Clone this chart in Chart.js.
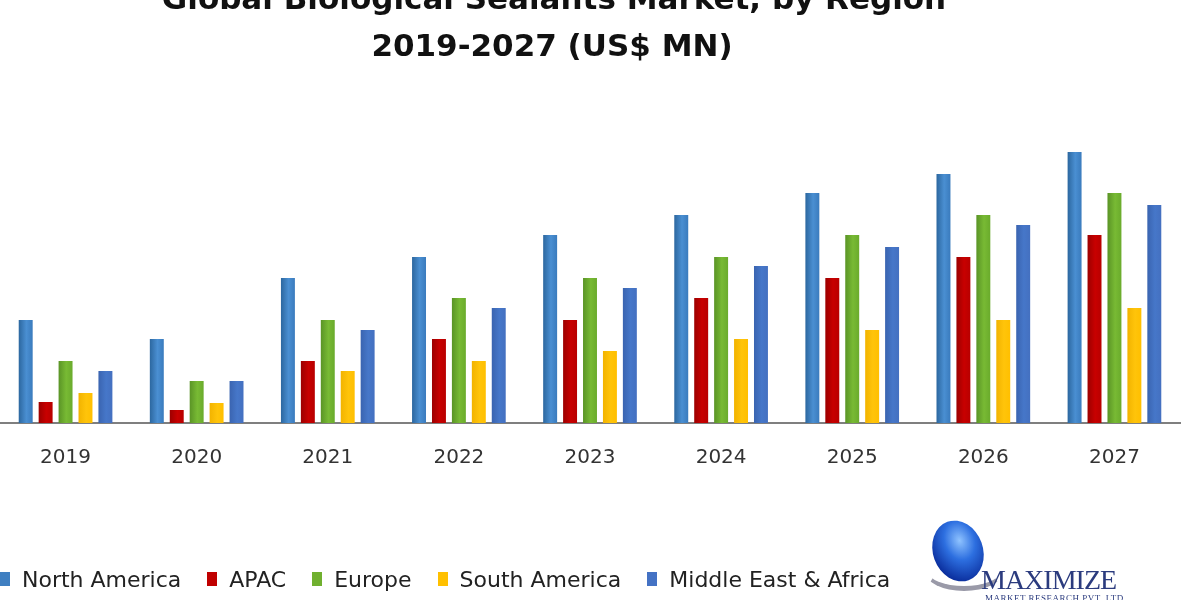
<!DOCTYPE html>
<html>
<head>
<meta charset="utf-8">
<script src="https://cdn.jsdelivr.net/npm/chart.js@4.4.1/dist/chart.umd.min.js"></script>
<style>
    html, body { margin: 0; padding: 0; background: #fff; }
    #wrap { position: relative; width: 1200px; height: 600px; overflow: hidden; font-family: "DejaVu Sans", sans-serif; }
    #chart { position: absolute; left: 0; top: 0; }
    #legend { position: absolute; left: 0; top: 566px; height: 26px; display: flex; align-items: center; font-size: 22px; color: #222; white-space: nowrap; }
    #legend .item { display: flex; align-items: center; margin-right: 26px; }
    #legend .box { display: inline-block; width: 10px; height: 14px; margin-right: 12px; }
    #logo { position: absolute; left: 925px; top: 518px; width: 275px; height: 82px; }
    #logo .globe { position: absolute; left: 8px; top: 2px; width: 50px; height: 62px; border-radius: 50%;
        background: radial-gradient(ellipse at 60% 35%, #8fc3ff 0%, #2d6fe0 35%, #0b2f9e 75%, #061c63 100%); transform: rotate(-20deg); }
    #logo .swoosh { position: absolute; left: 0px; top: 34px; width: 72px; height: 34px; border-radius: 50%;
        border-bottom: 5px solid #9a9aa8; border-left: 3px solid transparent; border-right: 3px solid transparent; }
    #logo .name { position: absolute; left: 56px; top: 48px; font-family: "Liberation Serif", serif; font-size: 28px; color: #2b3b7e; letter-spacing: -1px; line-height: 28px; }
    #logo .sub { position: absolute; left: 60px; top: 75px; font-family: "Liberation Serif", serif; font-size: 9px; color: #2b3b7e; letter-spacing: 0.5px; }
</style>
</head>
<body>
<div id="wrap">
    <canvas id="chart" width="1200" height="600"></canvas>
    <div id="legend"></div>
    <div id="logo">
        <div class="swoosh"></div>
        <div class="globe"></div>
        <div class="name">MAXIMIZE</div>
        <div class="sub">MARKET RESEARCH PVT. LTD.</div>
    </div>
</div>
<script>
// Données (échelle relative, US$ MN)
const YEARS = ['2019', '2020', '2021', '2022', '2023', '2024', '2025', '2026', '2027'];
const REGIONS = ['North America', 'APAC', 'Europe', 'South America', 'Middle East & Africa'];

const northAmerica = [103, 84, 145, 166, 188, 208, 230, 249, 271];
const apac         = [21, 13, 62, 84, 103, 125, 145, 166, 188];
const europe       = [62, 42, 103, 125, 145, 166, 188, 208, 230];
const southAmerica = [30, 20, 52, 62, 72, 84, 93, 103, 115];
const middleEast   = [52, 42, 93, 115, 135, 157, 176, 198, 218];

const SERIES = [northAmerica, apac, europe, southAmerica, middleEast];

// couleurs: [bord sombre, centre clair, bord droit]
const COLORS = [
    ['#2c679f', '#4a8fd2', '#3a7bbd'],
    ['#9c0000', '#c80000', '#b80000'],
    ['#5a9426', '#78ba34', '#6aab2c'],
    ['#f2b300', '#ffc40a', '#ffbf00'],
    ['#3a64b0', '#4677c9', '#4470c0']
];
const LEGEND_COLORS = ['#3f7fc1', '#c00000', '#70b02f', '#ffc000', '#4472c4'];

const CAT_PCT = 0.76;
const BAR_PCT = 0.7;

function barFill(ctx) {
    const chart = ctx.chart;
    const xs = chart.scales.x;
    const c = COLORS[ctx.datasetIndex];
    if (!xs || !chart.chartArea || ctx.dataIndex === undefined) return c[1];
    const catW = xs.width / YEARS.length;
    const groupW = catW * CAT_PCT;
    const slotW = groupW / SERIES.length;
    const center = xs.getPixelForValue(ctx.dataIndex) - groupW / 2 + slotW * (ctx.datasetIndex + 0.5);
    const w = slotW * BAR_PCT;
    const g = chart.ctx.createLinearGradient(center - w / 2, 0, center + w / 2, 0);
    g.addColorStop(0, c[0]);
    g.addColorStop(0.55, c[1]);
    g.addColorStop(1, c[2]);
    return g;
}

// Titre (la première ligne est coupée en haut de l'image)
const titlePlugin = {
    id: 'titleText',
    afterDraw(chart) {
        const ctx = chart.ctx;
        ctx.save();
        ctx.fillStyle = '#111';
        ctx.textAlign = 'center';
        ctx.textBaseline = 'alphabetic';
        ctx.font = 'bold 31px "DejaVu Sans"';
        ctx.fillText('Global Biological Sealants Market, by Region', 554, 9);
        ctx.fillText('2019-2027 (US$ MN)', 552, 56);
        ctx.restore();
    }
};

const datasets = SERIES.map((data, i) => ({
    label: REGIONS[i],
    data,
    backgroundColor: barFill,
    borderWidth: 0,
    categoryPercentage: CAT_PCT,
    barPercentage: BAR_PCT
}));

new Chart(document.getElementById('chart'), {
    type: 'bar',
    data: { labels: YEARS, datasets },
    options: {
        responsive: false,
        animation: false,
        layout: { padding: { top: 123, bottom: 107, left: 0, right: 20 } },
        plugins: {
            legend: { display: false },
            tooltip: { enabled: false }
        },
        scales: {
            x: {
                grid: { display: false, drawTicks: false },
                border: { display: true, color: '#7f7f7f', width: 2 },
                ticks: { color: '#333', padding: 23, font: { family: 'DejaVu Sans', size: 20 } }
            },
            y: {
                display: false,
                min: 0,
                max: 300
            }
        }
    },
    plugins: [titlePlugin]
});

// Légende HTML construite à partir des séries
const legend = document.getElementById('legend');
REGIONS.forEach((name, i) => {
    const item = document.createElement('span');
    item.className = 'item';
    item.innerHTML = `<span class="box" style="background:${LEGEND_COLORS[i]}"></span>${name}`;
    legend.appendChild(item);
});
</script>
</body>
</html>
